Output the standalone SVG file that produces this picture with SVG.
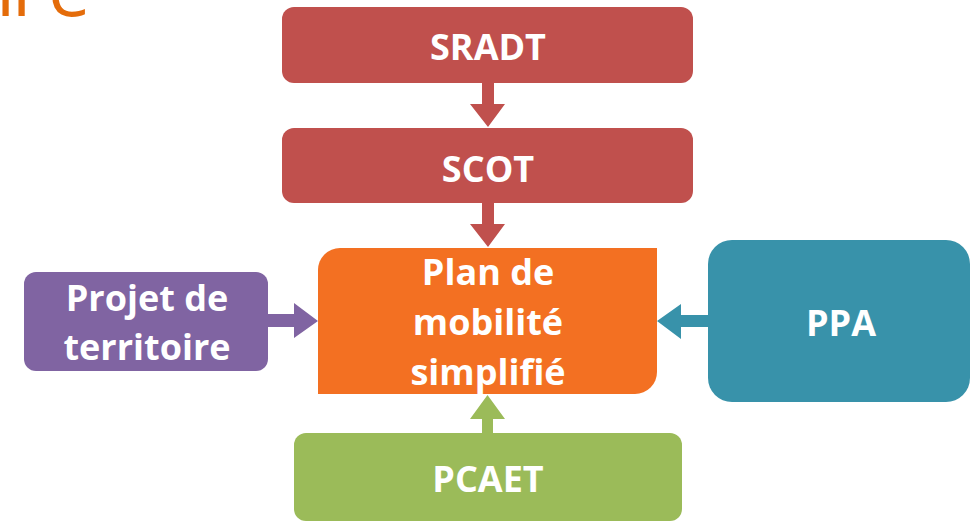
<svg xmlns="http://www.w3.org/2000/svg" width="971" height="522" viewBox="0 0 971 522">
<style>
.lbl{font-family:"Open Sans","Noto Sans","Liberation Sans",sans-serif;font-weight:700;font-size:36px;fill:#fff;text-anchor:middle}
.red{fill:#C0504D}
</style>
<rect width="971" height="522" fill="#fff"/>
<text x="-4 12 48" y="16" font-family="'Open Sans','Noto Sans',sans-serif" font-weight="400" font-size="76" fill="#E46C0A">ire</text>
<g id="connectors">
<polygon class="red" points="482,83 494,83 494,104 505,104 488,127 470,104 482,104"/>
<polygon class="red" points="482,203 494,203 494,224 505,224 488,247 470,224 482,224"/>
<polygon fill="#8064A2" points="268,314 294,314 294,303 318,321 294,338 294,327 268,327"/>
<polygon fill="#3892AA" points="708,315 681,315 681,304 657,321 681,339 681,327 708,327"/>
<polygon fill="#9BBB59" points="482,433 482,419 470,419 487.5,395 505,419 493,419 493,433"/>
</g>
<g id="sradt"><rect class="red" x="282" y="7" width="411" height="76" rx="12"/><text class="lbl" x="488" y="60">SRADT</text></g>
<g id="scot"><rect class="red" x="282" y="128" width="411" height="75" rx="12"/><text class="lbl" x="488" y="182">SCOT</text></g>
<g id="plan"><path fill="#F37022" d="M340,248 H657 V372 A22,22 0 0 1 635,394 H318 V270 A22,22 0 0 1 340,248 Z"/>
<text class="lbl" x="488" y="285">Plan de</text><text class="lbl" x="488" y="335">mobilité</text><text class="lbl" x="488" y="385">simplifié</text></g>
<g id="projet"><rect fill="#8064A2" x="24" y="272" width="244" height="99" rx="12"/><text class="lbl" x="147" y="311">Projet de</text><text class="lbl" x="147" y="360">territoire</text></g>
<g id="ppa"><rect fill="#3892AA" x="708" y="240" width="262" height="162" rx="24"/><text class="lbl" x="841" y="336">PPA</text></g>
<g id="pcaet"><rect fill="#9BBB59" x="294" y="433" width="388" height="88" rx="12"/><text class="lbl" x="488" y="492">PCAET</text></g>
</svg>
